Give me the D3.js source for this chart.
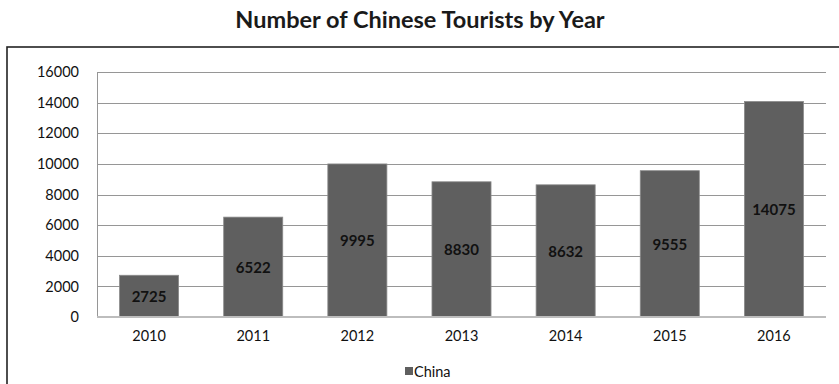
<!DOCTYPE html>
<html>
<head>
<meta charset="utf-8">
<script src="https://cdn.jsdelivr.net/npm/d3@7"></script>
<style>
  html, body { margin: 0; padding: 0; background: #fff; }
  svg { display: block; font-family: Lato, "Open Sans", sans-serif; }
</style>
</head>
<body>
<svg id="chart" width="839" height="384"></svg>
<script>
// Chart data
const years = ["2010", "2011", "2012", "2013", "2014", "2015", "2016"];
const chinaTourists = [2725, 6522, 9995, 8830, 8632, 9555, 14075];
const yTicks = [0, 2000, 4000, 6000, 8000, 10000, 12000, 14000, 16000];
const seriesName = "China";
const chartTitle = "Number of Chinese Tourists by Year";

const svg = d3.select("#chart");
const W = 839, H = 384;
const plot = { left: 97, right: 826, top: 72, bottom: 317 };

// Title
svg.append("text")
  .attr("x", 420).attr("y", 28)
  .attr("text-anchor", "middle")
  .attr("font-size", 23.5).attr("font-weight", "bold").attr("fill", "#1a1a1a")
  .text(chartTitle);

// Outer chart-area frame
svg.append("rect")
  .attr("x", 7).attr("y", 47)
  .attr("width", W + 10).attr("height", H)
  .attr("fill", "none").attr("stroke", "#222").attr("stroke-width", 1.6);

const x = d3.scaleBand().domain(years).range([plot.left, plot.right]).paddingInner(0.433).paddingOuter(0.2165);
const y = d3.scaleLinear().domain([0, 16000]).range([plot.bottom, plot.top]);

// Gridlines
svg.append("g")
  .selectAll("line").data(yTicks.filter(d => d > 0)).join("line")
  .attr("x1", plot.left).attr("x2", plot.right)
  .attr("y1", d => Math.round(y(d)) + 0.5).attr("y2", d => Math.round(y(d)) + 0.5)
  .attr("stroke", "#969696").attr("stroke-width", 1);

// Left vertical axis line
svg.append("line")
  .attr("x1", plot.left + 0.5).attr("x2", plot.left + 0.5)
  .attr("y1", plot.top).attr("y2", plot.bottom)
  .attr("stroke", "#969696").attr("stroke-width", 1);

// Y axis labels
const yAxis = d3.axisLeft(y).tickValues(yTicks).tickSize(0).tickPadding(18).tickFormat(d3.format("d"));
const yg = svg.append("g").attr("transform", `translate(${plot.left},0)`).call(yAxis);
yg.select(".domain").remove();
yg.selectAll("text").attr("font-size", 14.5).attr("fill", "#111").attr("font-family", "Lato, sans-serif");

// Bars
svg.append("g")
  .selectAll("rect").data(years).join("rect")
  .attr("x", d => x(d)).attr("width", x.bandwidth())
  .attr("y", (d, i) => y(chinaTourists[i]))
  .attr("height", (d, i) => y(0) - y(chinaTourists[i]))
  .attr("fill", "#5f5f5f").attr("stroke", "#8a8a8a").attr("stroke-width", 0.8);

// Baseline
svg.append("line")
  .attr("x1", plot.left).attr("x2", plot.right)
  .attr("y1", y(0)).attr("y2", y(0))
  .attr("stroke", "#bdbdbd").attr("stroke-width", 2);

// Value labels, centred inside each bar
svg.append("g")
  .selectAll("text").data(years).join("text")
  .attr("x", d => x(d) + x.bandwidth() / 2)
  .attr("y", (d, i) => (y(chinaTourists[i]) + y(0)) / 2)
  .attr("text-anchor", "middle").attr("dominant-baseline", "central")
  .attr("font-size", 15).attr("font-weight", "bold").attr("fill", "#111")
  .text((d, i) => chinaTourists[i]);

// X axis labels
const xAxis = d3.axisBottom(x).tickSize(0).tickPadding(14);
const xg = svg.append("g").attr("transform", `translate(0,${plot.bottom})`).call(xAxis);
xg.select(".domain").remove();
xg.selectAll("text").attr("font-size", 14.5).attr("fill", "#111").attr("font-family", "Lato, sans-serif");

// Legend
const lg = svg.append("g").attr("transform", "translate(405,367)");
lg.append("rect").attr("width", 8).attr("height", 8).attr("fill", "#5f5f5f");
lg.append("text").attr("x", 9).attr("y", 4).attr("dominant-baseline", "central")
  .attr("font-size", 14.5).attr("fill", "#111").text(seriesName);
</script>
</body>
</html>
